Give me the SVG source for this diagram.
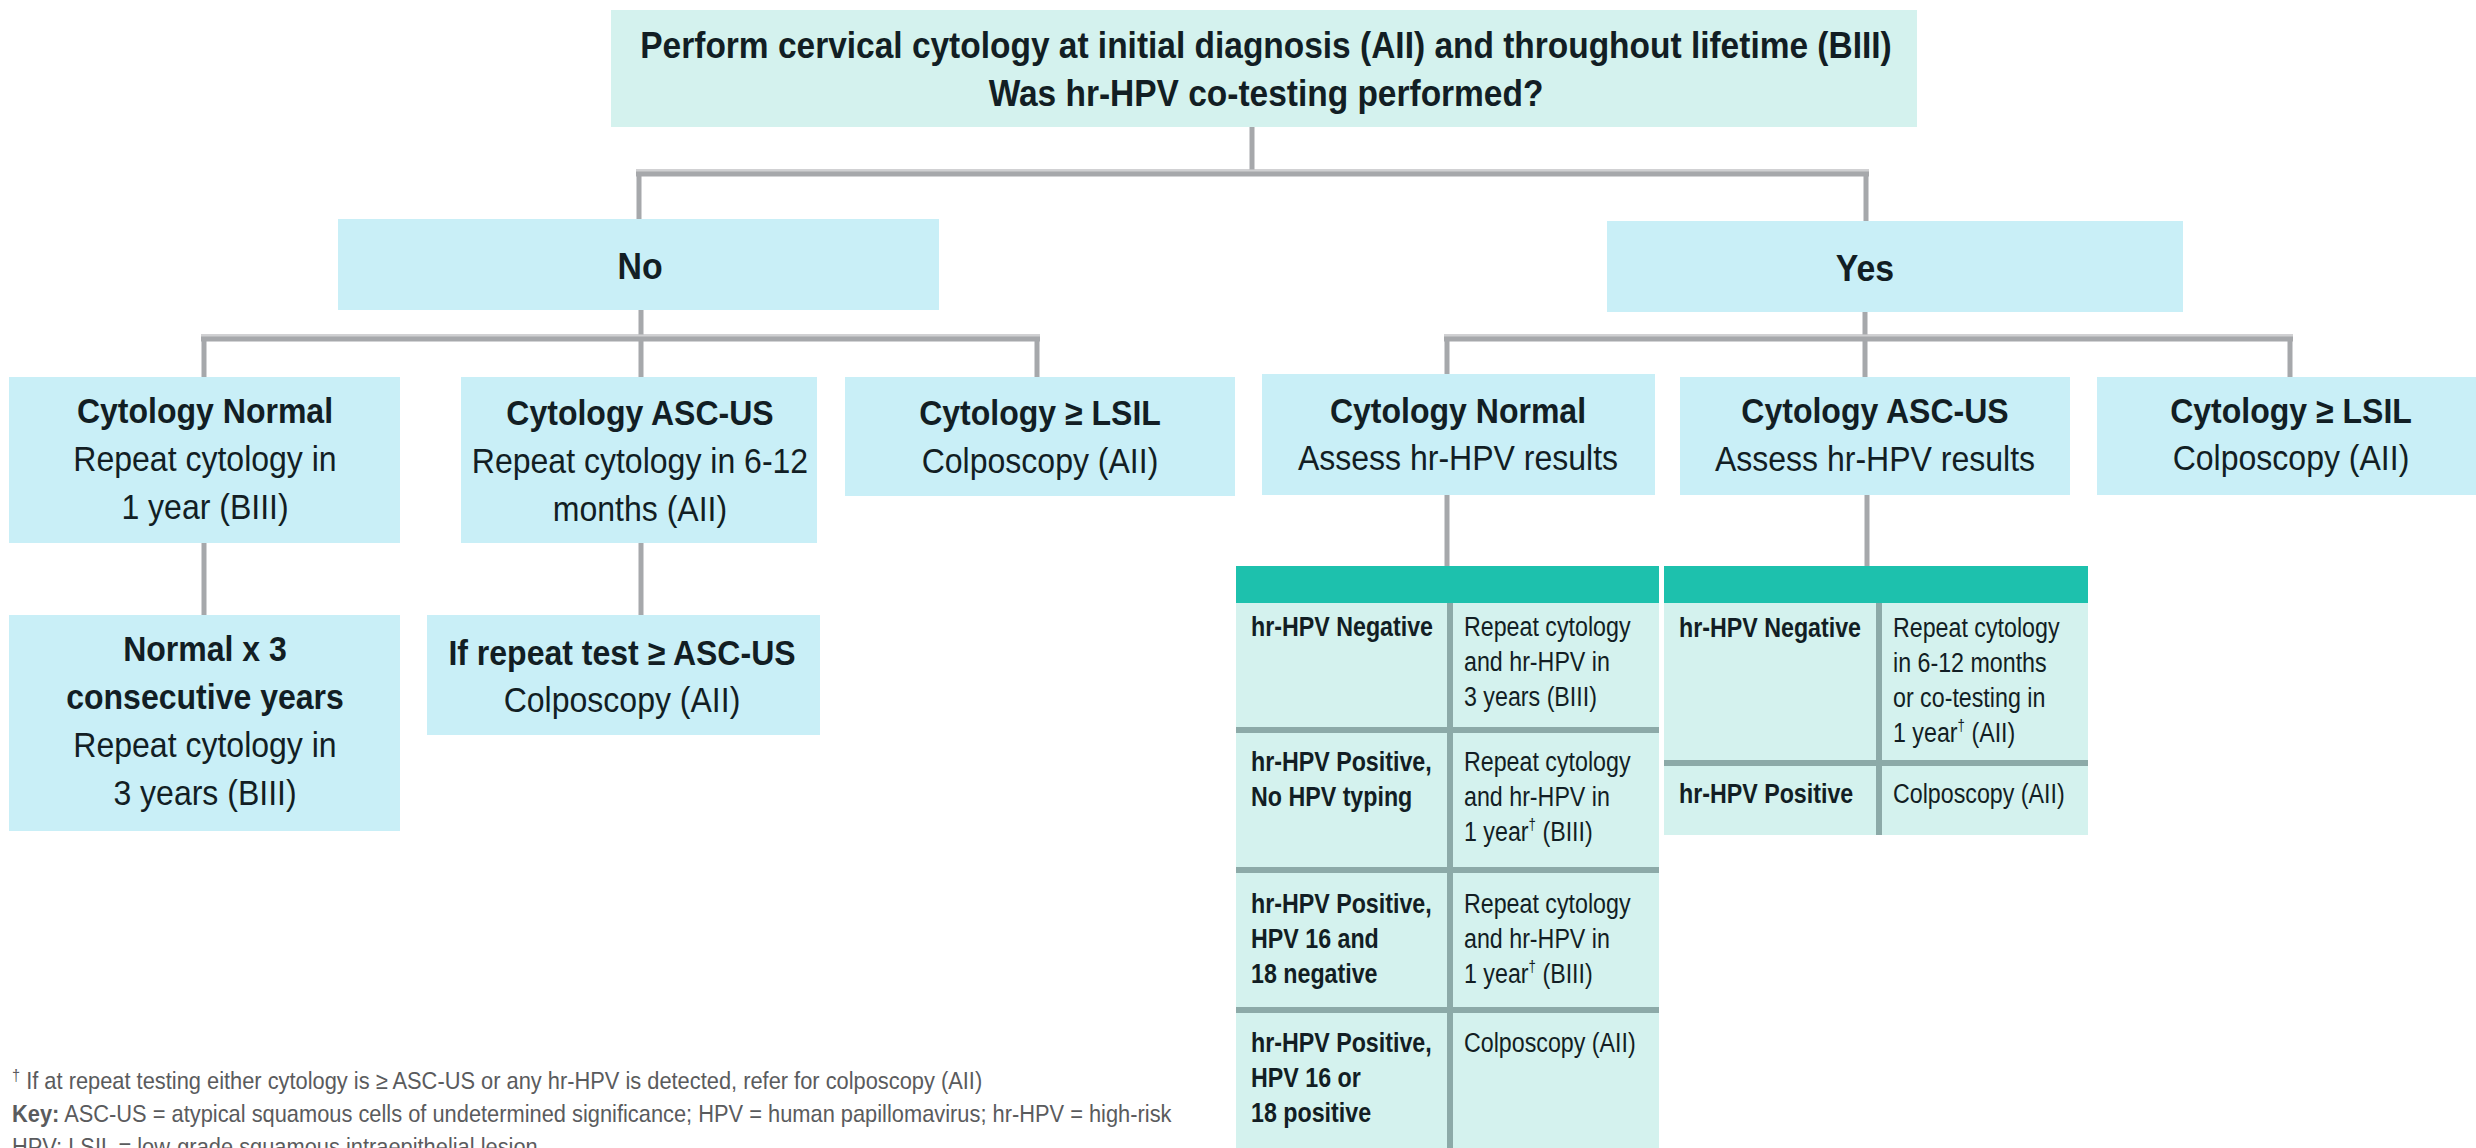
<svg xmlns="http://www.w3.org/2000/svg" width="2476" height="1148" viewBox="0 0 2476 1148">
<style>
text{font-family:"Liberation Sans",Arial,sans-serif;fill:#121e24}
.b{font-weight:bold}
.c{text-anchor:middle}
.box{fill:#c9eff7}
.mint{fill:#d4f2ee}
.head{fill:#1dc1ad}
.div{fill:#8caaa8}
.v{stroke-width:5}
.h{stroke-width:7}
.hl{stroke-width:2;stroke:#cfd0d2}
.t34{font-size:35px}
.t36{font-size:37px}
.t28{font-size:28px}
.fn{font-size:24px;fill:#5a5b5d}
.sup{font-size:16px}
</style>
<rect width="2476" height="1148" fill="#ffffff"/>
<g id="connectors" fill="none" stroke="#a6a8ab">
<path class="v" d="M1252 127V173M639 173V219M1866 173V221M641 310V338M204 338V377M641 338V377M1037 338V377M1865 312V338M1447 338V374M1865 338V377M2290 338V377M204 543V615M641 543V615M1447 495V566M1867 495V566"/>
<path class="h" d="M636 173H1869M201 338H1040M1444 338H2293"/>
<path class="hl" d="M636 170.5H1869M201 335.5H1040M1444 335.5H2293"/>
</g>
<g id="start">
<rect class="mint" x="611" y="10" width="1306" height="117"/>
<g transform="translate(1266 0) scale(0.905 1)">
<text class="b c t36" x="0" y="58">Perform cervical cytology at initial diagnosis (AII) and throughout lifetime (BIII)</text>
<text class="b c t36" x="0" y="106">Was hr-HPV co-testing performed?</text>
</g>
</g>
<g id="no">
<rect class="box" x="338" y="219" width="601" height="91"/>
<g transform="translate(640 0) scale(0.915 1)"><text class="b c t36" x="0" y="279">No</text></g>
</g>
<g id="yes">
<rect class="box" x="1607" y="221" width="576" height="91"/>
<g transform="translate(1865 0) scale(0.915 1)"><text class="b c t36" x="0" y="281">Yes</text></g>
</g>
<g id="no-normal">
<rect class="box" x="9" y="377" width="391" height="166"/>
<g transform="translate(205 0) scale(0.915 1)">
<text class="b c t34" x="0" y="423">Cytology Normal</text>
<text class="c t34" x="0" y="471">Repeat cytology in</text>
<text class="c t34" x="0" y="519">1 year (BIII)</text>
</g>
</g>
<g id="no-ascus">
<rect class="box" x="461" y="377" width="356" height="166"/>
<g transform="translate(640 0) scale(0.915 1)">
<text class="b c t34" x="0" y="425">Cytology ASC-US</text>
<text class="c t34" x="0" y="473">Repeat cytology in 6-12</text>
<text class="c t34" x="0" y="521">months (AII)</text>
</g>
</g>
<g id="no-lsil">
<rect class="box" x="845" y="377" width="390" height="119"/>
<g transform="translate(1040 0) scale(0.915 1)">
<text class="b c t34" x="0" y="425">Cytology ≥ LSIL</text>
<text class="c t34" x="0" y="473">Colposcopy (AII)</text>
</g>
</g>
<g id="no-normal-3">
<rect class="box" x="9" y="615" width="391" height="216"/>
<g transform="translate(205 0) scale(0.915 1)">
<text class="b c t34" x="0" y="661">Normal x 3</text>
<text class="b c t34" x="0" y="709">consecutive years</text>
<text class="c t34" x="0" y="757">Repeat cytology in</text>
<text class="c t34" x="0" y="805">3 years (BIII)</text>
</g>
</g>
<g id="no-repeat">
<rect class="box" x="427" y="615" width="393" height="120"/>
<g transform="translate(622 0) scale(0.915 1)">
<text class="b c t34" x="0" y="665">If repeat test ≥ ASC-US</text>
<text class="c t34" x="0" y="712">Colposcopy (AII)</text>
</g>
</g>
<g id="yes-normal">
<rect class="box" x="1262" y="374" width="393" height="121"/>
<g transform="translate(1458 0) scale(0.915 1)">
<text class="b c t34" x="0" y="423">Cytology Normal</text>
<text class="c t34" x="0" y="470">Assess hr-HPV results</text>
</g>
</g>
<g id="yes-ascus">
<rect class="box" x="1680" y="377" width="390" height="118"/>
<g transform="translate(1875 0) scale(0.915 1)">
<text class="b c t34" x="0" y="423">Cytology ASC-US</text>
<text class="c t34" x="0" y="471">Assess hr-HPV results</text>
</g>
</g>
<g id="yes-lsil">
<rect class="box" x="2097" y="377" width="379" height="118"/>
<g transform="translate(2291 0) scale(0.915 1)">
<text class="b c t34" x="0" y="423">Cytology ≥ LSIL</text>
<text class="c t34" x="0" y="470">Colposcopy (AII)</text>
</g>
</g>
<g id="table-normal">
<rect class="mint" x="1236" y="566" width="423" height="582"/>
<rect class="head" x="1236" y="566" width="423" height="37"/>
<rect class="div" x="1447" y="603" width="6" height="545"/>
<rect class="div" x="1236" y="727" width="423" height="6"/>
<rect class="div" x="1236" y="867" width="423" height="6"/>
<rect class="div" x="1236" y="1007" width="423" height="6"/>
<g transform="translate(1251 0) scale(0.83 1)">
<text class="b t28" x="0" y="636">hr-HPV Negative</text>
<text class="b t28" x="0" y="771">hr-HPV Positive,</text>
<text class="b t28" x="0" y="806">No HPV typing</text>
<text class="b t28" x="0" y="913">hr-HPV Positive,</text>
<text class="b t28" x="0" y="948">HPV 16 and</text>
<text class="b t28" x="0" y="983">18 negative</text>
<text class="b t28" x="0" y="1052">hr-HPV Positive,</text>
<text class="b t28" x="0" y="1087">HPV 16 or</text>
<text class="b t28" x="0" y="1122">18 positive</text>
</g>
<g transform="translate(1464 0) scale(0.83 1)">
<text class="t28" x="0" y="636">Repeat cytology</text>
<text class="t28" x="0" y="671">and hr-HPV in</text>
<text class="t28" x="0" y="706">3 years (BIII)</text>
<text class="t28" x="0" y="771">Repeat cytology</text>
<text class="t28" x="0" y="806">and hr-HPV in</text>
<text class="t28" x="0" y="841">1 year<tspan class="sup" dy="-11">†</tspan><tspan dy="11"> (BIII)</tspan></text>
<text class="t28" x="0" y="913">Repeat cytology</text>
<text class="t28" x="0" y="948">and hr-HPV in</text>
<text class="t28" x="0" y="983">1 year<tspan class="sup" dy="-11">†</tspan><tspan dy="11"> (BIII)</tspan></text>
<text class="t28" x="0" y="1052">Colposcopy (AII)</text>
</g>
</g>
<g id="table-ascus">
<rect class="mint" x="1664" y="566" width="424" height="269"/>
<rect class="head" x="1664" y="566" width="424" height="37"/>
<rect class="div" x="1876" y="603" width="6" height="232"/>
<rect class="div" x="1664" y="760" width="424" height="6"/>
<g transform="translate(1679 0) scale(0.83 1)">
<text class="b t28" x="0" y="637">hr-HPV Negative</text>
<text class="b t28" x="0" y="803">hr-HPV Positive</text>
</g>
<g transform="translate(1893 0) scale(0.83 1)">
<text class="t28" x="0" y="637">Repeat cytology</text>
<text class="t28" x="0" y="672">in 6-12 months</text>
<text class="t28" x="0" y="707">or co-testing in</text>
<text class="t28" x="0" y="742">1 year<tspan class="sup" dy="-11">†</tspan><tspan dy="11"> (AII)</tspan></text>
<text class="t28" x="0" y="803">Colposcopy (AII)</text>
</g>
</g>
<g id="footnotes" transform="translate(12 0) scale(0.91 1)">
<text class="fn" x="0" y="1089"><tspan class="sup" dy="-8">†</tspan><tspan dy="8"> If at repeat testing either cytology is ≥ ASC-US or any hr-HPV is detected, refer for colposcopy (AII)</tspan></text>
<text class="fn" x="0" y="1122"><tspan class="b">Key:</tspan> ASC-US = atypical squamous cells of undetermined significance; HPV = human papillomavirus; hr-HPV = high-risk</text>
<text class="fn" x="0" y="1155">HPV; LSIL = low-grade squamous intraepithelial lesion</text>
</g>
</svg>
